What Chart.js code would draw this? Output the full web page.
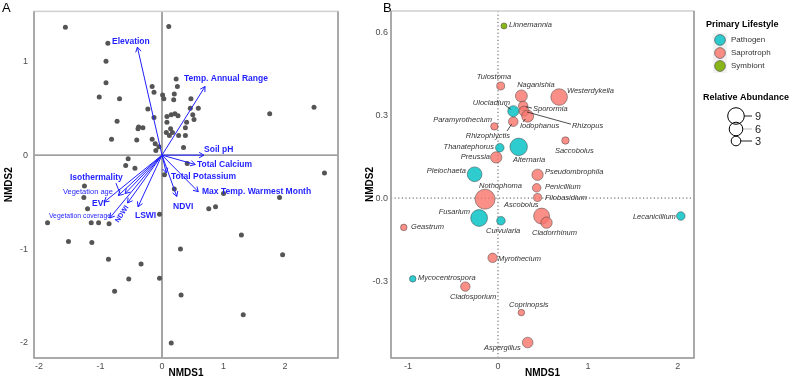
<!DOCTYPE html>
<html><head><meta charset="utf-8">
<script src="https://cdn.jsdelivr.net/npm/chart.js@4"></script>
<style>
html,body{margin:0;padding:0;background:#fff;}
#wrap{position:relative;width:790px;height:382px;overflow:hidden;font-family:"Liberation Sans",Arial,sans-serif}
canvas{position:absolute;top:0}
.tag{position:absolute;font-size:13px;color:#000;line-height:14px}
</style></head><body>
<div id="wrap">
<canvas id="ca" width="350" height="382" style="left:0"></canvas>
<canvas id="cb" width="428" height="382" style="left:362px"></canvas>
<div class="tag" style="left:2px;top:1px">A</div>
<div class="tag" style="left:383px;top:1px">B</div>
</div>
<script>
// ---------- Panel A data ----------
const siteX = [-1.57,0.11,-0.88,-0.91,-0.91,-1.02,-0.69,-0.16,-0.13,0.23,0.25,0.01,0.03,0.20,0.19,0.47,-0.23,-0.13,-0.73,0.08,0.15,0.21,0.26,0.46,0.59,0.08,0.40,0.50,0.52,-0.38,-0.39,-0.31,0.14,0.38,0.07,0.17,0.12,0.27,0.38,-0.82,-0.41,-0.16,-0.11,-0.05,-0.10,0.35,-0.55,-0.59,-0.44,0.04,0.20,0.41,-1.26,1.75,2.47,2.64,-1.27,-1.21,-1.86,-1.15,-1.03,-0.86,-0.04,-1.52,-1.14,0.30,-0.87,-0.34,-0.54,-0.04,-0.77,0.31,0.15,1.00,1.91,0.76,0.87,1.29,1.96,1.32];
const siteY = [1.36,1.37,1.19,1.00,0.77,0.62,0.60,0.73,0.67,0.81,0.73,0.64,0.60,0.65,0.59,0.60,0.49,0.40,0.36,0.41,0.43,0.44,0.42,0.50,0.50,0.35,0.35,0.43,0.38,0.30,0.28,0.29,0.28,0.29,0.24,0.24,0.21,0.21,0.21,0.17,0.16,0.17,0.12,0.09,0.05,0.08,-0.04,-0.11,-0.14,-0.21,-0.36,-0.09,-0.33,0.44,0.51,-0.19,-0.45,-0.57,-0.72,-0.72,-0.72,-0.73,-0.63,-0.92,-0.93,-1.00,-1.11,-1.16,-1.32,-1.31,-1.45,-1.49,-2.00,-0.41,-0.45,-0.57,-0.55,-0.85,-1.06,-1.70];
const envNames = ['Elevation','Temp. Annual Range','Soil pH','Total Calcium','Total Potassium','Max Temp. Warmest Month','NDVI','LSWI','NDWI','Vegetation coverage','EVI','Vegetation age','Isothermality'];
const envX = [-0.40,0.70,0.68,0.54,0.07,0.59,0.24,-0.39,-0.56,-0.85,-0.94,-0.71,-0.60];
const envY = [1.15,0.73,0.00,-0.10,-0.19,-0.39,-0.44,-0.55,-0.51,-0.67,-0.50,-0.43,-0.41];
const xTicksA = [-2,-1,0,1,2];
const yTicksA = [-2,-1,0,1];

// label layout for panel A (data coords of label anchor)
const envLabX = [-0.813,0.358,0.683,0.569,0.146,0.650,0.179,-0.439,-0.65,-1.837,-1.138,-1.610,-1.496];
const envLabY = [1.213,0.809,0.053,-0.106,-0.234,-0.394,-0.553,-0.649,-0.628,-0.649,-0.521,-0.394,-0.245];

// ---------- Panel B data ----------
const genera = ['Linnemannia','Tulostoma','Naganishia','Westerdykella','Ulocladium','Sporormia','Rhizopus','Iodophanus','Paramyrothecium','Rhizophlyctis','Thanatephorus','Alternaria','Preussia','Saccobolus','Pleiochaeta','Pseudombrophila','Nothophoma','Penicillium','Filobasidium','Ascobolus','Cladorrhinum','Fusarium','Curvularia','Geastrum','Myrothecium','Mycocentrospora','Cladosporium','Coprinopsis','Aspergillus','Lecanicillium'];
const lifestyle = ['Symbiont','Saprotroph','Saprotroph','Saprotroph','Pathogen','Saprotroph','Saprotroph','Saprotroph','Saprotroph','Saprotroph','Pathogen','Pathogen','Saprotroph','Saprotroph','Pathogen','Saprotroph','Saprotroph','Saprotroph','Saprotroph','Saprotroph','Saprotroph','Pathogen','Pathogen','Saprotroph','Saprotroph','Pathogen','Saprotroph','Saprotroph','Saprotroph','Pathogen'];
const nmds1 = [0.067,0.03,0.26,0.68,0.17,0.28,0.29,0.33,-0.04,0.17,0.02,0.23,-0.02,0.75,-0.26,0.44,-0.144,0.43,0.44,0.485,0.54,-0.21,0.033,-1.048,-0.06,-0.948,-0.363,0.26,0.33,2.033];
const nmds2 = [0.622,0.405,0.369,0.365,0.314,0.333,0.314,0.296,0.259,0.276,0.182,0.185,0.147,0.208,0.086,0.084,-0.004,0.037,0.002,-0.065,-0.089,-0.072,-0.082,-0.106,-0.216,-0.292,-0.32,-0.414,-0.522,-0.065];
const abundance = [1.2,2.1,4.7,9.0,4.0,2.9,3.3,4.7,1.8,3.0,2.4,10.0,4.2,1.8,7.1,4.2,13.0,2.4,2.1,8.3,4.2,9.2,2.4,1.4,2.9,1.4,2.9,1.4,3.7,2.4];
const lifestyles = ['Pathogen','Saprotroph','Symbiont'];
const sizeBreaks = [9,6,3];
const xTicksB = [-1,0,1,2];
const yTicksB = [-0.3,0,0.3,0.6];

// label layout for panel B (data coords of label anchor, alignment)
const labX = [0.122,-0.044,0.422,0.767,0.133,0.389,0.822,0.244,-0.067,0.133,-0.044,0.167,-0.089,0.633,-0.356,0.522,-0.211,0.522,0.522,0.067,0.378,-0.311,-0.133,-0.967,0.0,-0.889,-0.533,0.122,-0.156,1.978];
const labY = [0.625,0.437,0.408,0.387,0.343,0.322,0.26,0.26,0.282,0.224,0.184,0.137,0.148,0.17,0.098,0.094,0.043,0.04,0.0,-0.025,-0.126,-0.051,-0.119,-0.105,-0.22,-0.289,-0.358,-0.387,-0.542,-0.069];
const labAlign = ['left','center','center','left','right','left','left','left','right','right','right','left','right','left','right','left','left','left','left','left','left','right','left','left','left','left','left','left','left','right'];
const segFrom = {Ulocladium:[0.078,0.336],Sporormia:[0.378,0.325],Rhizopus:[0.811,0.267],Iodophanus:[0.278,0.275],Rhizophlyctis:[0.1,0.242]};

// ---------- styles ----------
const FONT = '"Liberation Sans", Arial, sans-serif';
const BLUE = '#1f1fff';
const COLORS = {Pathogen:'rgba(0,191,196,0.82)', Saprotroph:'rgba(248,118,109,0.82)', Symbiont:'rgba(124,174,0,0.9)'};
const sizeR = a => 2.77*Math.sqrt(a);
Chart.defaults.font.family = FONT;

function frame(chart, dotted){
  const {ctx, chartArea:a, scales} = chart;
  ctx.save();
  const x0 = scales.x.getPixelForValue(0), y0 = scales.y.getPixelForValue(0);
  ctx.beginPath();
  if (dotted){ ctx.setLineDash([1.2,2.4]); ctx.strokeStyle='#555'; ctx.lineWidth=1; }
  else { ctx.strokeStyle='#7f7f7f'; ctx.lineWidth=1.4; }
  ctx.moveTo(x0,a.top); ctx.lineTo(x0,a.bottom);
  ctx.moveTo(a.left,y0); ctx.lineTo(a.right,y0);
  ctx.stroke();
  ctx.restore();
}
function border(chart){
  const {ctx, chartArea:a} = chart;
  ctx.save();
  ctx.strokeStyle='#cfcfcf'; ctx.lineWidth=1.5;
  ctx.strokeRect(a.left,a.top,a.right-a.left,a.bottom-a.top);
  ctx.strokeStyle='#9a9a9a'; ctx.lineWidth=1.5;
  ctx.beginPath();
  ctx.moveTo(a.left,a.top); ctx.lineTo(a.left,a.bottom); ctx.lineTo(a.right,a.bottom); ctx.lineTo(a.right,a.top);
  ctx.stroke();
  ctx.restore();
}

// ---------- Panel A ----------
const pluginA = {
  id:'pa',
  beforeDatasetsDraw(chart){ frame(chart,false); },
  afterDatasetsDraw(chart){
    const {ctx, scales:{x,y}} = chart;
    ctx.save();
    ctx.strokeStyle = BLUE; ctx.lineWidth = 1;
    envX.forEach((vx,i)=>{
      const ox=x.getPixelForValue(0), oy=y.getPixelForValue(0);
      const tx=x.getPixelForValue(vx), ty=y.getPixelForValue(envY[i]);
      const ang=Math.atan2(ty-oy,tx-ox), L=5.5, h=Math.PI/6;
      ctx.beginPath();
      ctx.moveTo(tx-L*Math.cos(ang-h), ty-L*Math.sin(ang-h));
      ctx.lineTo(tx,ty);
      ctx.lineTo(tx-L*Math.cos(ang+h), ty-L*Math.sin(ang+h));
      ctx.stroke();
    });
    // leader line for Isothermality
    ctx.beginPath();
    const ii = envNames.indexOf('Isothermality');
    ctx.moveTo(x.getPixelForValue(envLabX[ii])+46, y.getPixelForValue(envLabY[ii])+5);
    ctx.lineTo(x.getPixelForValue(envX[ii])-5, y.getPixelForValue(envY[ii]));
    ctx.stroke();
    // labels
    ctx.fillStyle = BLUE; ctx.textBaseline='middle'; ctx.textAlign='left';
    envNames.forEach((n,i)=>{
      const px=x.getPixelForValue(envLabX[i]), py=y.getPixelForValue(envLabY[i]);
      if (n==='Vegetation coverage' || n==='Vegetation age'){
        ctx.font = '8px '+FONT;
        ctx.fillText(n, px, py, n==='Vegetation age'?50:62);
      } else if (n==='NDWI'){
        ctx.save(); ctx.translate(px,py); ctx.rotate(-Math.PI/3.2);
        ctx.font = 'bold 7px '+FONT; ctx.textAlign='center';
        ctx.fillText(n,0,0); ctx.restore();
      } else {
        ctx.font = 'bold 8.5px '+FONT;
        ctx.fillText(n, px, py);
      }
    });
    ctx.restore();
  },
  afterDraw(chart){ border(chart); }
};

const tickFont = {size:9};
new Chart(document.getElementById('ca'), {
  type:'scatter',
  data:{datasets:[
    {data: siteX.map((v,i)=>({x:v,y:siteY[i]})), pointRadius:2.5, pointBackgroundColor:'#555', pointBorderWidth:0, order:2},
    ...envX.map((v,i)=>({data:[{x:0,y:0},{x:v,y:envY[i]}], showLine:true, borderColor:BLUE, borderWidth:1, pointRadius:0, order:1}))
  ]},
  options:{
    responsive:false, animation:false, events:[], devicePixelRatio:1,
    layout:{padding:{left:0,top:11,right:12,bottom:0}},
    plugins:{legend:{display:false}, tooltip:{enabled:false}},
    scales:{
      x:{type:'linear', min:-2.08, max:2.86,
         afterBuildTicks:s=>{s.ticks=xTicksA.map(v=>({value:v}));},
         afterFit:s=>{s.height=24;},
         grid:{display:false, drawTicks:false}, border:{display:false},
         ticks:{color:'#4d4d4d', font:tickFont, padding:3},
         title:{display:true, text:'NMDS1', color:'#000', font:{size:10,weight:'bold'}, padding:{top:0,bottom:3}}},
      y:{type:'linear', min:-2.16, max:1.53,
         afterBuildTicks:s=>{s.ticks=yTicksA.map(v=>({value:v}));},
         afterFit:s=>{s.width=34;},
         grid:{display:false, drawTicks:false}, border:{display:false},
         ticks:{color:'#4d4d4d', font:tickFont, padding:6},
         title:{display:true, text:'NMDS2', color:'#000', font:{size:10,weight:'bold'}, padding:{top:3,bottom:0}}}
    }
  },
  plugins:[pluginA]
});

// ---------- Panel B ----------
const pluginB = {
  id:'pb',
  beforeDatasetsDraw(chart){ frame(chart,true); },
  afterDatasetsDraw(chart){
    const {ctx, scales:{x,y}} = chart;
    ctx.save();
    // leader segments
    ctx.strokeStyle='#222'; ctx.lineWidth=0.8;
    genera.forEach((g,i)=>{
      if(!segFrom[g]) return;
      const sx=x.getPixelForValue(segFrom[g][0]), sy=y.getPixelForValue(segFrom[g][1]);
      const cx=x.getPixelForValue(nmds1[i]), cy=y.getPixelForValue(nmds2[i]);
      const d=Math.hypot(cx-sx,cy-sy), r=sizeR(abundance[i])*0.6;
      ctx.beginPath(); ctx.moveTo(sx,sy);
      ctx.lineTo(cx-(cx-sx)/d*r, cy-(cy-sy)/d*r); ctx.stroke();
    });
    ctx.fillStyle='#333'; ctx.font='italic 7.5px '+FONT; ctx.textBaseline='middle';
    genera.forEach((g,i)=>{
      ctx.textAlign = labAlign[i];
      ctx.fillText(g, x.getPixelForValue(labX[i]), y.getPixelForValue(labY[i]));
    });
    ctx.restore();
  },
  afterDraw(chart){
    border(chart);
    const ctx = chart.ctx;
    ctx.save();
    // Primary Lifestyle legend
    ctx.fillStyle='#000'; ctx.font='bold 9px '+FONT; ctx.textBaseline='middle'; ctx.textAlign='left';
    ctx.fillText('Primary Lifestyle', 344, 25);
    ctx.fillStyle='#f2f2f2'; ctx.fillRect(351, 33, 14, 40);
    lifestyles.forEach((l,k)=>{
      const cy = 40 + k*13;
      ctx.beginPath(); ctx.arc(358, cy, 5.4, 0, Math.PI*2);
      ctx.fillStyle=COLORS[l]; ctx.fill();
      ctx.strokeStyle='#444'; ctx.lineWidth=0.6; ctx.stroke();
      ctx.fillStyle='#333'; ctx.font='8px '+FONT;
      ctx.fillText(l, 369, cy);
    });
    // Relative Abundance legend
    ctx.fillStyle='#000'; ctx.font='bold 9px '+FONT;
    ctx.fillText('Relative Abundance', 341, 98);
    const cys = [116,129,141];
    sizeBreaks.forEach((s,k)=>{
      const r = sizeR(s), cy = cys[k];
      ctx.strokeStyle = k===1 ? '#bbb' : '#222'; ctx.lineWidth=1;
      ctx.beginPath(); ctx.moveTo(374+r, cy); ctx.lineTo(390, cy); ctx.stroke();
    });
    sizeBreaks.forEach((s,k)=>{
      const r = sizeR(s), cy = cys[k];
      ctx.beginPath(); ctx.arc(374, cy, r, 0, Math.PI*2);
      ctx.strokeStyle='#000'; ctx.lineWidth=1; ctx.stroke();
      ctx.fillStyle='#222'; ctx.font='11px '+FONT;
      ctx.fillText(String(s), 393, cy+0.5);
    });
    ctx.restore();
  }
};

const dsB = lifestyles.map(l=>{
  const idx = genera.map((g,i)=>i).filter(i=>lifestyle[i]===l);
  return {
    label:l,
    data: idx.map(i=>({x:nmds1[i], y:nmds2[i]})),
    pointRadius: c => sizeR(abundance[idx[c.dataIndex]]),
    pointBackgroundColor: COLORS[l],
    pointBorderColor: 'rgba(60,60,60,0.8)',
    pointBorderWidth: 0.6
  };
});

new Chart(document.getElementById('cb'), {
  type:'scatter',
  data:{datasets:dsB},
  options:{
    responsive:false, animation:false, events:[], devicePixelRatio:1,
    layout:{padding:{left:0,top:11,right:96,bottom:0}},
    plugins:{legend:{display:false}, tooltip:{enabled:false}},
    scales:{
      x:{type:'linear', min:-1.19, max:2.18,
         afterBuildTicks:s=>{s.ticks=xTicksB.map(v=>({value:v}));},
         afterFit:s=>{s.height=24;},
         grid:{display:false, drawTicks:false}, border:{display:false},
         ticks:{color:'#4d4d4d', font:tickFont, padding:3, callback:v=>String(v)},
         title:{display:true, text:'NMDS1', color:'#000', font:{size:10,weight:'bold'}, padding:{top:0,bottom:3}}},
      y:{type:'linear', min:-0.578, max:0.676,
         afterBuildTicks:s=>{s.ticks=yTicksB.map(v=>({value:v}));},
         afterFit:s=>{s.width=29;},
         grid:{display:false, drawTicks:false}, border:{display:false},
         ticks:{color:'#4d4d4d', font:tickFont, padding:3, callback:v=>Number(v).toFixed(1)},
         title:{display:true, text:'NMDS2', color:'#000', font:{size:10,weight:'bold'}, padding:{top:2,bottom:0}}}
    }
  },
  plugins:[pluginB]
});
</script>
</body></html>
